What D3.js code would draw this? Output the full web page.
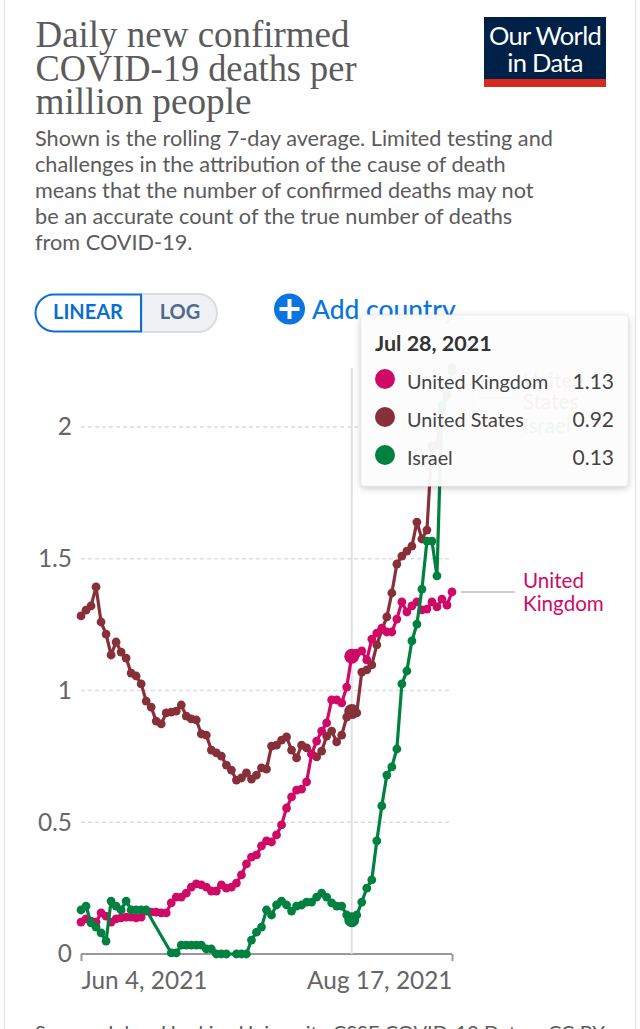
<!DOCTYPE html>
<html>
<head>
<meta charset="utf-8">
<script src="https://cdn.jsdelivr.net/npm/d3@7"></script>
<style>
  html, body { margin: 0; padding: 0; background: #fff; overflow: hidden; }
  text { font-family: Lato, sans-serif; }
  .title { font-family: "Liberation Serif", serif; font-size: 37px; fill: #5b5b5b; }
  .sub { font-size: 21.7px; fill: #5b5b5b; }
  .tick text { font-family: Lato, sans-serif; font-size: 24.4px; fill: #666; }
</style>
</head>
<body>
<svg id="chart" width="640" height="1029"></svg>
<script>
const startDate = new Date(2021, 5, 4);
const hoverDate = new Date(2021, 6, 28);
const endDate = new Date(2021, 7, 17);

const unitedStates = [1.283,1.305,1.321,1.393,1.26,1.214,1.135,1.184,1.146,1.123,1.066,1.055,1.025,.96,.937,.884,.873,.915,.918,.922,.945,.903,.892,.888,.835,.831,.774,.763,.751,.717,.698,.66,.668,.687,.664,.679,.706,.702,.789,.793,.812,.824,.774,.744,.793,.782,.759,.748,.77,.827,.846,.805,.831,.899,.92,.915,1.07,1.078,1.097,1.173,1.23,1.279,1.37,1.48,1.51,1.529,1.548,1.639,1.575,1.609,1.928,1.932,2.065,2.121,2.224];
const unitedKingdom = [.121,.133,.125,.121,.156,.144,.121,.133,.137,.14,.14,.137,.14,.163,.159,.159,.156,.156,.194,.216,.216,.231,.254,.266,.262,.254,.239,.239,.262,.25,.254,.269,.3,.342,.368,.376,.41,.429,.425,.452,.49,.554,.596,.622,.626,.653,.759,.808,.846,.877,.964,.964,.953,1.013,1.13,1.142,1.15,1.116,1.195,1.218,1.237,1.222,1.222,1.271,1.336,1.298,1.321,1.336,1.306,1.309,1.336,1.317,1.347,1.324,1.374];
// Israel has days with no report, the line just runs across them
const israel = [.167,.182,.118,.102,.08,.049,.201,.182,.167,.201,.167,.167,.167,.167,null,null,null,null,.004,.004,.034,.034,.034,.034,.034,.019,.019,0,0,0,null,0,0,0,.053,.083,.102,.167,.148,.186,.201,.186,.163,.182,.186,.197,.197,.216,.231,.216,.194,.182,.182,.148,.13,.148,.197,.25,.281,.429,.562,.679,.71,.778,1.025,1.074,1.188,1.252,1.385,1.567,1.567,1.435,2.083,2.14,2.209];

const seriesNames = ['United States', 'United Kingdom', 'Israel'];
const seriesColors = ['#883039', '#cf0a66', '#00813f'];
const seriesValues = [unitedStates, unitedKingdom, israel];

const yTicks = [0, 0.5, 1, 1.5, 2];
const tooltipRows = [['United Kingdom', '1.13', '#cf0a66'], ['United States', '0.92', '#883039'], ['Israel', '0.13', '#00813f']];

const titleLines = ['Daily new confirmed', 'COVID-19 deaths per', 'million people'];
const titleWidths = [314, 321, 216];
const subLines = [
  'Shown is the rolling 7-day average. Limited testing and',
  'challenges in the attribution of the cause of death',
  'means that the number of confirmed deaths may not',
  'be an accurate count of the true number of deaths',
  'from COVID-19.'
];

const svg = d3.select('#chart');

// card edges
svg.append('rect').attr('x', 4.5).attr('y', -5).attr('width', 631).attr('height', 1045)
  .attr('fill', '#fff').attr('stroke', '#e6e6e6').attr('stroke-width', 1.5);

svg.selectAll('.title').data(titleLines).enter().append('text')
  .attr('class', 'title').attr('x', 35.5).attr('y', (d, i) => 47 + i * 33.5)
  .attr('textLength', (d, i) => titleWidths[i]).attr('lengthAdjust', 'spacingAndGlyphs').text(d => d);
svg.selectAll('.sub').data(subLines).enter().append('text')
  .attr('class', 'sub').attr('x', 35).attr('y', (d, i) => 146 + i * 26).text(d => d);

// logo
svg.append('rect').attr('x', 484).attr('y', 17).attr('width', 122).attr('height', 62).attr('fill', '#002147');
svg.append('rect').attr('x', 484).attr('y', 79).attr('width', 122).attr('height', 8).attr('fill', '#d42b21');
svg.selectAll('.logo').data(['Our World', 'in Data']).enter().append('text')
  .attr('x', 545).attr('y', (d, i) => 45 + i * 27).attr('text-anchor', 'middle')
  .attr('font-size', 25.5).attr('letter-spacing', -0.7).attr('fill', '#fff').text(d => d);

// scale toggle
svg.append('path').attr('d', 'M142 294H198a19 19 0 0 1 0 38H142Z').attr('fill', '#eff1f4').attr('stroke', '#dadde1').attr('stroke-width', 2);
svg.append('path').attr('d', 'M141 294.5H54a18.5 18.5 0 0 0 0 37H141Z').attr('fill', '#fff').attr('stroke', '#0a6fd0').attr('stroke-width', 2);
svg.append('text').attr('x', 88).attr('y', 319).attr('text-anchor', 'middle').attr('font-size', 20).attr('font-weight', 700).attr('fill', '#0a6fd0').text('LINEAR');
svg.append('text').attr('x', 180).attr('y', 319).attr('text-anchor', 'middle').attr('font-size', 20).attr('font-weight', 700).attr('fill', '#4f6b8d').text('LOG');

// add country
svg.append('circle').attr('cx', 289.5).attr('cy', 309).attr('r', 15.5).attr('fill', '#0a74e0');
svg.append('path').attr('d', 'M289.5 299V319M279.5 309H299.5').attr('stroke', '#fff').attr('stroke-width', 4);
svg.append('text').attr('x', 312).attr('y', 319).attr('font-size', 26.4).attr('font-weight', 500).attr('fill', '#0a74e0').text('Add country');

const x = d3.scaleTime().domain([startDate, endDate]).range([81, 452]);
const y = d3.scaleLinear().domain([0, 2]).range([954, 427]);

// grid
svg.append('g').selectAll('line').data(yTicks.slice(1)).enter().append('line')
  .attr('x1', 81).attr('x2', 452).attr('y1', d => y(d)).attr('y2', d => y(d))
  .attr('stroke', '#ddd').attr('stroke-dasharray', '4 3').attr('stroke-width', 1.5);

const yAxis = svg.append('g').attr('transform', 'translate(81,0)')
  .call(d3.axisLeft(y).tickValues(yTicks).tickSize(0).tickPadding(9).tickFormat(d3.format('~g')));
yAxis.select('.domain').remove();

const xAxis = svg.append('g').attr('transform', 'translate(0,954)')
  .call(d3.axisBottom(x).tickValues([startDate, endDate]).tickSize(7).tickPadding(11)
    .tickFormat(d3.timeFormat('%b %-d, %Y')));
xAxis.select('.domain').attr('stroke', '#999').attr('stroke-width', 2).attr('d', 'M81,0H452');
xAxis.selectAll('.tick line').attr('stroke', '#999').attr('stroke-width', 2);
xAxis.selectAll('.tick text').attr('text-anchor', (d, i) => i ? 'end' : 'start');

// hover line
svg.append('line').attr('x1', x(hoverDate)).attr('x2', x(hoverDate)).attr('y1', 368).attr('y2', 954)
  .attr('stroke', '#e0e0e0').attr('stroke-width', 2);

const line = d3.line().x(d => x(d.date)).y(d => y(d.value));

seriesValues.forEach((values, s) => {
  const points = values
    .map((v, i) => ({ date: d3.timeDay.offset(startDate, i), value: v, index: i }))
    .filter(d => d.value !== null);
  const g = svg.append('g');
  g.append('path').datum(points).attr('d', line).attr('fill', 'none')
    .attr('stroke', seriesColors[s]).attr('stroke-width', 3.2);
  g.selectAll('circle').data(points).enter().append('circle')
    .attr('cx', d => x(d.date)).attr('cy', d => y(d.value))
    .attr('r', d => d.index === 54 ? 7.5 : 4.4).attr('fill', seriesColors[s]);
});

// end labels, two of them sit behind the tooltip
const labels = [
  { lines: ['United', 'Kingdom'], ys: [588, 611], color: '#cf0a66' },
  { lines: ['United', 'States'], ys: [388, 409], color: '#883039' },
  { lines: ['Israel'], ys: [433], color: '#00813f' }
];
labels.forEach(l => {
  l.lines.forEach((t, i) => {
    svg.append('text').attr('x', 523).attr('y', l.ys[i]).attr('font-size', 20.6).attr('fill', l.color).text(t);
  });
});
svg.append('line').attr('x1', 461).attr('x2', 515).attr('y1', 592).attr('y2', 592).attr('stroke', '#999').attr('stroke-width', 1);
svg.append('path').attr('d', 'M461 369H479V398H515M461 373H473V426H515').attr('fill', 'none').attr('stroke', '#999').attr('stroke-width', 1);

// tooltip
svg.append('rect').attr('x', 361).attr('y', 315).attr('width', 267).attr('height', 171).attr('rx', 3)
  .attr('fill', 'rgba(255,255,255,0.94)').attr('stroke', '#eee')
  .style('filter', 'drop-shadow(0 2px 3px rgba(0,0,0,0.22))');
svg.append('text').attr('x', 375).attr('y', 351).attr('font-size', 21.5).attr('font-weight', 700).attr('fill', '#333').text('Jul 28, 2021');
const rows = svg.append('g').selectAll('g').data(tooltipRows).enter().append('g')
  .attr('transform', (d, i) => `translate(0,${379 + i * 38})`);
rows.append('circle').attr('cx', 385).attr('cy', 0).attr('r', 10).attr('fill', d => d[2]);
rows.append('text').attr('x', 407).attr('y', 9.5).attr('font-size', 19.8).attr('fill', '#444').text(d => d[0]);
rows.append('text').attr('x', 614).attr('y', 9.5).attr('text-anchor', 'end').attr('font-size', 21).attr('fill', '#444').text(d => d[1]);

// footer, cut off by the window
svg.append('text').attr('x', 35).attr('y', 1040).attr('font-size', 20.1).attr('fill', '#5b5b5b')
  .text('Source: Johns Hopkins University CSSE COVID-19 Data – CC BY');
</script>
</body>
</html>
